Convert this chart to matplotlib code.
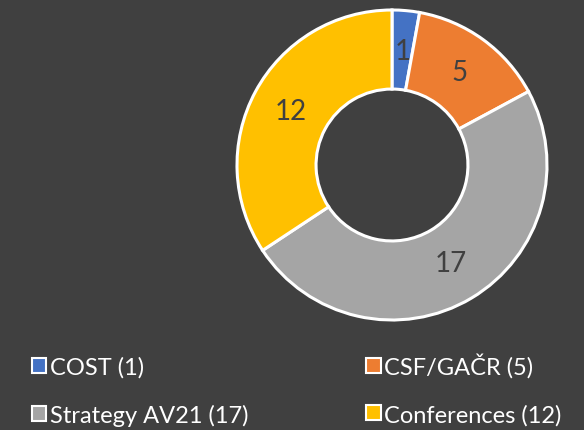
import matplotlib.pyplot as plt
from matplotlib.patches import Patch

categories = ["COST", "CSF/GAČR", "Strategy AV21", "Conferences"]
values = [1, 5, 17, 12]
colors = ["#4472C4", "#ED7D31", "#A5A5A5", "#FFC000"]

bg = "#404040"
plt.rcParams['font.family'] = ['Lato', 'DejaVu Sans']

W, H = 584, 431
fig = plt.figure(figsize=(W / 100, H / 100), dpi=100, facecolor=bg)

# donut: centre (392, 166) px from top-left, outer radius 155 px
cx, cy, r = 392, 166, 155
ax = fig.add_axes([(cx - r) / W, (H - cy - r) / H, 2 * r / W, 2 * r / H])
ax.set_facecolor(bg)

wedges, texts = ax.pie(values, colors=colors, startangle=90, counterclock=False,
                       labels=[str(v) for v in values], labeldistance=0.74,
                       wedgeprops=dict(width=0.51, edgecolor="white", linewidth=2.2),
                       textprops=dict(color=bg, fontsize=20))
for w in wedges:
    w.set_clip_on(False)
for t in texts:
    t.set_ha("center")
    t.set_va("center")
ax.set_xlim(-1, 1)
ax.set_ylim(-1, 1)
ax.axis("off")

handles = [Patch(facecolor=c, edgecolor="white", linewidth=1.5) for c in colors]
labels = [f"{c} ({v})" for c, v in zip(categories, values)]
order = [0, 2, 1, 3]
fig.legend([handles[i] for i in order], [labels[i] for i in order], ncol=2,
           loc="lower left", bbox_to_anchor=(18 / W, -10 / H), frameon=False,
           fontsize=17, labelcolor="white", handlelength=0.6, handleheight=0.6,
           handletextpad=0.15, columnspacing=5.0, labelspacing=1.1,
           borderaxespad=0.2)

fig.savefig("out.png", dpi=100, facecolor=bg)
